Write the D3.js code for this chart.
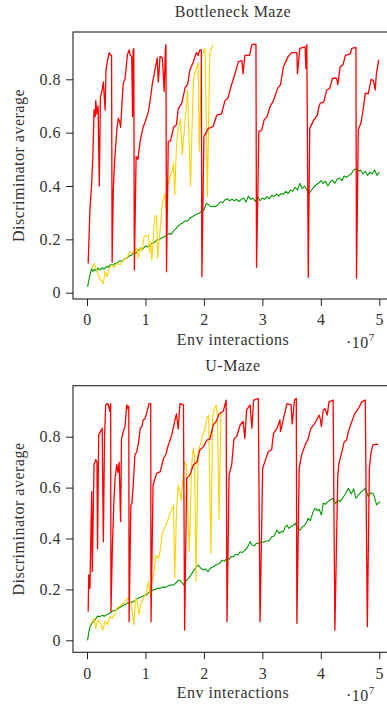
<!DOCTYPE html>
<html>
<head>
<meta charset="utf-8">
<script src="https://cdn.jsdelivr.net/npm/d3@7"></script>
<style>
  body { margin: 0; background: #fff; }
  svg text { font-family: "Liberation Serif", serif; font-weight: normal; fill: #333; letter-spacing: 0.5px; }
</style>
</head>
<body>
<div id="chart"></div>
<script>
// x values are env interactions in units of 1e7
const xTicks = [0, 1, 2, 3, 4, 5];
const yTicks = [0, 0.2, 0.4, 0.6, 0.8];
const titles = ["Bottleneck Maze", "U-Maze"];

const bneckRed = [[0.02,0.11],[0.05,0.31],[0.08,0.41],[0.10,0.51],[0.12,0.685],[0.14,0.66],[0.15,0.72],[0.17,0.67],[0.19,0.70],[0.21,0.40],[0.23,0.735],[0.26,0.76],[0.28,0.79],[0.31,0.685],[0.325,0.835],[0.35,0.87],[0.365,0.885],[0.38,0.9],[0.405,0.89],[0.42,0.89],[0.43,0.114],
  [0.45,0.385],[0.47,0.486],[0.51,0.61],[0.535,0.654],[0.56,0.64],[0.575,0.62],[0.605,0.735],[0.62,0.786],[0.65,0.8],[0.69,0.89],[0.72,0.91],[0.74,0.89],[0.765,0.885],[0.78,0.66],[0.79,0.91],[0.80,0.915],[0.81,0.085],
  [0.84,0.51],[0.87,0.50],[0.91,0.57],[0.96,0.62],[1.01,0.65],[1.05,0.68],[1.08,0.72],[1.12,0.786],[1.15,0.82],[1.2,0.88],[1.22,0.79],[1.25,0.886],[1.29,0.88],[1.32,0.754],[1.34,0.91],[1.35,0.93],[1.36,0.079],
  [1.39,0.566],[1.43,0.57],[1.48,0.62],[1.53,0.63],[1.56,0.69],[1.62,0.71],[1.68,0.77],[1.72,0.78],[1.76,0.835],[1.82,0.866],[1.87,0.9],[1.90,0.89],[1.93,0.91],[1.955,0.91],[1.965,0.06],
  [2.0,0.585],[2.075,0.616],[2.13,0.62],[2.16,0.625],[2.22,0.666],[2.3,0.67],[2.36,0.72],[2.41,0.73],[2.46,0.77],[2.53,0.82],[2.59,0.866],[2.65,0.87],[2.67,0.82],[2.7,0.89],[2.78,0.89],[2.82,0.93],[2.89,0.932],[2.90,0.095],
  [2.94,0.604],[2.99,0.61],[3.03,0.648],[3.08,0.66],[3.13,0.697],[3.19,0.72],[3.26,0.766],[3.31,0.78],[3.36,0.847],[3.44,0.885],[3.5,0.9],[3.59,0.9],[3.6,0.82],[3.64,0.916],[3.73,0.922],[3.745,0.84],[3.76,0.93],[3.785,0.058],
  [3.81,0.616],[3.88,0.648],[3.94,0.666],[3.97,0.70],[3.99,0.71],[4.05,0.715],[4.10,0.76],[4.15,0.765],[4.2,0.804],[4.27,0.804],[4.29,0.78],[4.33,0.847],[4.38,0.855],[4.42,0.89],[4.5,0.895],[4.53,0.916],[4.60,0.92],[4.61,0.054],
  [4.64,0.61],[4.69,0.64],[4.73,0.697],[4.76,0.748],[4.81,0.745],[4.86,0.8],[4.9,0.795],[4.93,0.76],[4.95,0.82],[4.99,0.873]];

const bneckYellow = [[0.08,0.09],[0.12,0.11],[0.19,0.066],[0.23,0.05],[0.28,0.035],[0.31,0.08],[0.34,0.06],[0.38,0.09],[0.42,0.104],[0.47,0.095],[0.51,0.11],[0.57,0.105],[0.62,0.123],[0.68,0.13],[0.735,0.154],[0.79,0.148],[0.85,0.166],[0.88,0.13],[0.91,0.17],[0.94,0.155],[0.975,0.21],[1.05,0.215],[1.07,0.15],[1.09,0.19],[1.11,0.123],[1.16,0.285],[1.19,0.29],[1.21,0.129],[1.25,0.235],[1.29,0.335],[1.33,0.37],[1.36,0.30],[1.38,0.40],[1.42,0.435],[1.46,0.46],[1.48,0.485],[1.50,0.366],[1.53,0.547],[1.56,0.62],[1.60,0.65],[1.63,0.516],[1.68,0.65],[1.72,0.76],[1.77,0.40],[1.82,0.8],[1.86,0.835],[1.9,0.86],[1.92,0.53],[1.96,0.885],[2.02,0.916],[2.06,0.36],[2.10,0.9],[2.16,0.93]];

const bneckGreen = [[0.01,0.022],[0.03,0.045],[0.06,0.075],[0.08,0.09],[0.1,0.08],[0.13,0.088],[0.16,0.082],[0.19,0.092],[0.22,0.085],[0.26,0.094],[0.29,0.088],[0.33,0.098],[0.36,0.095],[0.40,0.105],[0.44,0.103],[0.48,0.11],[0.52,0.112],[0.56,0.12],[0.6,0.118],[0.64,0.127],[0.68,0.13],[0.72,0.138],[0.76,0.14],[0.8,0.15],[0.84,0.148],[0.88,0.16],[0.92,0.166],[0.96,0.165],[1.0,0.175],[1.04,0.172],[1.08,0.18],[1.12,0.185],[1.16,0.19],[1.2,0.198],[1.24,0.2],[1.28,0.205],[1.32,0.21],[1.36,0.216],[1.4,0.222],[1.44,0.218],[1.48,0.232],[1.52,0.24],[1.56,0.25],[1.6,0.258],[1.64,0.262],[1.68,0.27],[1.72,0.268],[1.76,0.28],[1.8,0.285],[1.84,0.29],[1.88,0.295],[1.92,0.298],[1.96,0.305],[2.0,0.31],[2.04,0.335],[2.08,0.33],[2.12,0.322],[2.16,0.325],[2.2,0.322],[2.24,0.33],[2.28,0.34],[2.32,0.338],[2.36,0.348],[2.4,0.352],[2.44,0.345],[2.48,0.35],[2.52,0.345],[2.56,0.35],[2.6,0.342],[2.64,0.35],[2.68,0.355],[2.72,0.34],[2.76,0.362],[2.8,0.35],[2.84,0.355],[2.88,0.342],[2.92,0.36],[2.96,0.345],[3.0,0.355],[3.04,0.35],[3.08,0.36],[3.12,0.352],[3.16,0.365],[3.2,0.36],[3.24,0.37],[3.28,0.362],[3.32,0.372],[3.36,0.368],[3.4,0.38],[3.44,0.372],[3.48,0.385],[3.52,0.38],[3.56,0.395],[3.6,0.385],[3.64,0.41],[3.68,0.39],[3.72,0.4],[3.76,0.385],[3.8,0.372],[3.84,0.385],[3.88,0.395],[3.92,0.405],[3.96,0.41],[4.0,0.42],[4.04,0.41],[4.08,0.418],[4.12,0.4],[4.16,0.415],[4.2,0.422],[4.24,0.41],[4.28,0.425],[4.32,0.43],[4.36,0.42],[4.4,0.438],[4.44,0.432],[4.48,0.44],[4.52,0.445],[4.56,0.46],[4.6,0.465],[4.64,0.455],[4.68,0.46],[4.72,0.445],[4.76,0.455],[4.8,0.44],[4.84,0.452],[4.88,0.445],[4.92,0.46],[4.96,0.44],[5.0,0.452]];

const umazeRed = [[0.02,0.112],[0.03,0.257],[0.05,0.204],[0.08,0.584],[0.09,0.27],[0.12,0.69],[0.15,0.71],[0.17,0.70],[0.18,0.36],[0.20,0.807],[0.23,0.82],[0.26,0.833],[0.28,0.387],[0.30,0.80],[0.32,0.925],[0.36,0.93],[0.39,0.90],[0.405,0.93],[0.41,0.112],
  [0.435,0.374],[0.46,0.545],[0.48,0.636],[0.51,0.69],[0.53,0.66],[0.55,0.70],[0.575,0.466],[0.59,0.79],[0.62,0.82],[0.65,0.84],[0.68,0.925],[0.70,0.91],[0.715,0.92],[0.72,0.073],
  [0.75,0.53],[0.77,0.54],[0.79,0.61],[0.82,0.728],[0.85,0.74],[0.88,0.774],[0.91,0.833],[0.94,0.84],[0.96,0.866],[0.99,0.87],[1.02,0.892],[1.06,0.93],[1.09,0.93],[1.095,0.073],
  [1.13,0.61],[1.19,0.656],[1.25,0.662],[1.31,0.715],[1.35,0.73],[1.39,0.767],[1.45,0.807],[1.5,0.86],[1.53,0.89],[1.56,0.83],[1.59,0.93],[1.65,0.925],[1.67,0.04],
  [1.705,0.636],[1.76,0.65],[1.82,0.69],[1.88,0.70],[1.93,0.748],[1.99,0.76],[2.05,0.787],[2.1,0.79],[2.16,0.846],[2.21,0.86],[2.26,0.89],[2.33,0.9],[2.38,0.944],[2.395,0.073],
  [2.43,0.65],[2.475,0.69],[2.515,0.793],[2.56,0.80],[2.62,0.846],[2.67,0.86],[2.70,0.793],[2.73,0.905],[2.79,0.925],[2.82,0.833],[2.85,0.944],[2.93,0.95],[2.96,0.073],
  [3.005,0.676],[3.04,0.70],[3.10,0.741],[3.16,0.75],[3.19,0.813],[3.25,0.833],[3.30,0.866],[3.31,0.82],[3.36,0.87],[3.42,0.93],[3.49,0.925],[3.51,0.85],[3.55,0.944],[3.58,0.95],[3.59,0.067],
  [3.63,0.676],[3.67,0.728],[3.73,0.767],[3.78,0.79],[3.83,0.833],[3.90,0.853],[3.97,0.885],[3.99,0.87],[4.01,0.84],[4.04,0.905],[4.07,0.91],[4.11,0.885],[4.14,0.937],[4.21,0.944],[4.24,0.04],
  [4.29,0.65],[4.31,0.695],[4.36,0.741],[4.40,0.78],[4.44,0.787],[4.47,0.82],[4.53,0.86],[4.58,0.89],[4.64,0.91],[4.70,0.937],[4.76,0.944],[4.795,0.053],
  [4.83,0.676],[4.86,0.741],[4.89,0.767],[4.93,0.77],[4.98,0.77]];

const umazeYellow = [[0.08,0.067],[0.12,0.086],[0.15,0.047],[0.19,0.08],[0.23,0.067],[0.27,0.04],[0.31,0.075],[0.35,0.06],[0.39,0.093],[0.43,0.086],[0.47,0.1],[0.51,0.126],[0.55,0.132],[0.59,0.14],[0.65,0.152],[0.69,0.165],[0.72,0.16],[0.76,0.14],[0.80,0.06],[0.83,0.165],[0.86,0.152],[0.89,0.10],[0.92,0.14],[0.96,0.165],[1.01,0.185],[1.05,0.23],[1.08,0.178],[1.1,0.217],[1.146,0.27],[1.18,0.335],[1.22,0.32],[1.25,0.348],[1.295,0.427],[1.33,0.44],[1.38,0.47],[1.42,0.50],[1.46,0.52],[1.48,0.53],[1.5,0.244],[1.53,0.50],[1.56,0.61],[1.59,0.58],[1.61,0.55],[1.63,0.61],[1.65,0.662],[1.67,0.70],[1.7,0.69],[1.75,0.348],[1.79,0.69],[1.82,0.754],[1.84,0.72],[1.865,0.23],[1.9,0.74],[1.945,0.774],[1.98,0.806],[2.02,0.833],[2.05,0.872],[2.08,0.885],[2.12,0.342],[2.15,0.88],[2.18,0.912],[2.21,0.925],[2.23,0.885],[2.26,0.473],[2.29,0.898]];

const umazeGreen = [[0.01,0.0],[0.03,0.03],[0.05,0.053],[0.09,0.07],[0.137,0.08],[0.18,0.095],[0.22,0.093],[0.26,0.098],[0.3,0.095],[0.34,0.1],[0.38,0.105],[0.42,0.112],[0.45,0.116],[0.49,0.118],[0.53,0.125],[0.565,0.13],[0.6,0.135],[0.64,0.14],[0.68,0.145],[0.72,0.148],[0.76,0.15],[0.79,0.151],[0.83,0.158],[0.87,0.165],[0.91,0.169],[0.95,0.172],[0.99,0.178],[1.02,0.178],[1.06,0.19],[1.1,0.195],[1.13,0.198],[1.17,0.2],[1.21,0.205],[1.25,0.204],[1.29,0.21],[1.32,0.208],[1.36,0.21],[1.4,0.214],[1.44,0.218],[1.48,0.217],[1.52,0.225],[1.56,0.235],[1.59,0.237],[1.63,0.225],[1.66,0.217],[1.7,0.235],[1.73,0.242],[1.76,0.25],[1.8,0.265],[1.84,0.28],[1.88,0.29],[1.9,0.296],[1.94,0.285],[1.99,0.276],[2.03,0.28],[2.07,0.27],[2.12,0.285],[2.16,0.289],[2.2,0.295],[2.24,0.3],[2.27,0.302],[2.31,0.315],[2.35,0.31],[2.39,0.322],[2.43,0.318],[2.47,0.33],[2.5,0.328],[2.54,0.338],[2.58,0.335],[2.62,0.348],[2.66,0.345],[2.7,0.355],[2.73,0.36],[2.76,0.372],[2.79,0.387],[2.82,0.375],[2.86,0.37],[2.9,0.382],[2.94,0.38],[2.98,0.387],[3.02,0.385],[3.06,0.39],[3.1,0.39],[3.13,0.395],[3.16,0.407],[3.2,0.41],[3.25,0.433],[3.29,0.42],[3.33,0.428],[3.36,0.427],[3.39,0.445],[3.42,0.453],[3.45,0.44],[3.48,0.445],[3.52,0.45],[3.56,0.46],[3.6,0.44],[3.64,0.433],[3.68,0.445],[3.72,0.45],[3.76,0.465],[3.78,0.479],[3.82,0.47],[3.86,0.5],[3.9,0.519],[3.94,0.51],[3.97,0.515],[4.01,0.492],[4.04,0.538],[4.08,0.535],[4.12,0.545],[4.16,0.551],[4.21,0.558],[4.25,0.538],[4.29,0.55],[4.33,0.545],[4.37,0.558],[4.42,0.575],[4.47,0.597],[4.52,0.575],[4.56,0.595],[4.6,0.558],[4.64,0.57],[4.7,0.585],[4.76,0.597],[4.81,0.565],[4.86,0.58],[4.9,0.575],[4.955,0.532],[5.01,0.545]];

const width = 387, height = 704;
const svg = d3.select("#chart").append("svg")
  .attr("width", width)
  .attr("height", height);

function drawPanel(title, red, yellow, green, top, bottom, y0, y08) {
  const left = 73, right = 393;
  let x = d3.scaleLinear().domain([0, 5]).range([87, 379.3]);
  let y = d3.scaleLinear().domain([0, 0.8]).range([y0, y08]);
  let g = svg.append("g");

  let line = d3.line().x(d => x(d[0])).y(d => y(d[1]));

  g.append("path").datum(green).attr("d", line)
    .attr("fill", "none").attr("stroke", "#009900").attr("stroke-width", 1.1).attr("stroke-linejoin", "round");
  g.append("path").datum(yellow).attr("d", line)
    .attr("fill", "none").attr("stroke", "#ffd200").attr("stroke-width", 1.1).attr("stroke-linejoin", "round");
  g.append("path").datum(red).attr("d", line)
    .attr("fill", "none").attr("stroke", "#ff0000").attr("stroke-width", 1.3).attr("stroke-linejoin", "round");

  // frame
  g.append("rect")
    .attr("x", left).attr("y", top)
    .attr("width", right - left).attr("height", bottom - top)
    .attr("fill", "none").attr("stroke", "#222").attr("stroke-width", 1.1);

  let xAxis = g.append("g")
    .attr("transform", `translate(0, ${bottom})`)
    .call(d3.axisBottom(x).tickValues(xTicks).tickSize(7).tickSizeOuter(0).tickPadding(8).tickFormat(d3.format("d")));
  let yAxis = g.append("g")
    .attr("transform", `translate(${left}, 0)`)
    .call(d3.axisLeft(y).tickValues(yTicks).tickSize(7).tickSizeOuter(0).tickPadding(5)
      .tickFormat(d => d === 0 ? "0" : d3.format(".1f")(d)));

  [xAxis, yAxis].forEach(a => {
    a.select(".domain").remove();
    a.selectAll(".tick line").attr("stroke", "#222").attr("stroke-width", 1);
    a.selectAll(".tick text").attr("font-size", 16).attr("fill", "#333")
      .style("font-family", "'Liberation Serif', serif");
  });

  g.append("text")
    .attr("x", 233).attr("y", top - 15)
    .attr("text-anchor", "middle").attr("font-size", 16)
    .text(title);

  g.append("text")
    .attr("x", 233).attr("y", bottom + 46)
    .attr("text-anchor", "middle").attr("font-size", 16)
    .text("Env interactions");

  let exp = g.append("text")
    .attr("x", 346).attr("y", bottom + 49)
    .attr("font-size", 16);
  exp.append("tspan").text("·10");
  exp.append("tspan").attr("font-size", 11).attr("dy", -7).text("7");

  g.append("text")
    .attr("transform", `translate(24, ${(top + bottom) / 2}) rotate(-90)`)
    .attr("text-anchor", "middle").attr("font-size", 16)
    .text("Discriminator average");
}

drawPanel(titles[0], bneckRed, bneckYellow, bneckGreen, 32, 299, 292.7, 79.3);
drawPanel(titles[1], umazeRed, umazeYellow, umazeGreen, 385.7, 652.3, 640.3, 436.7);
</script>
</body>
</html>
